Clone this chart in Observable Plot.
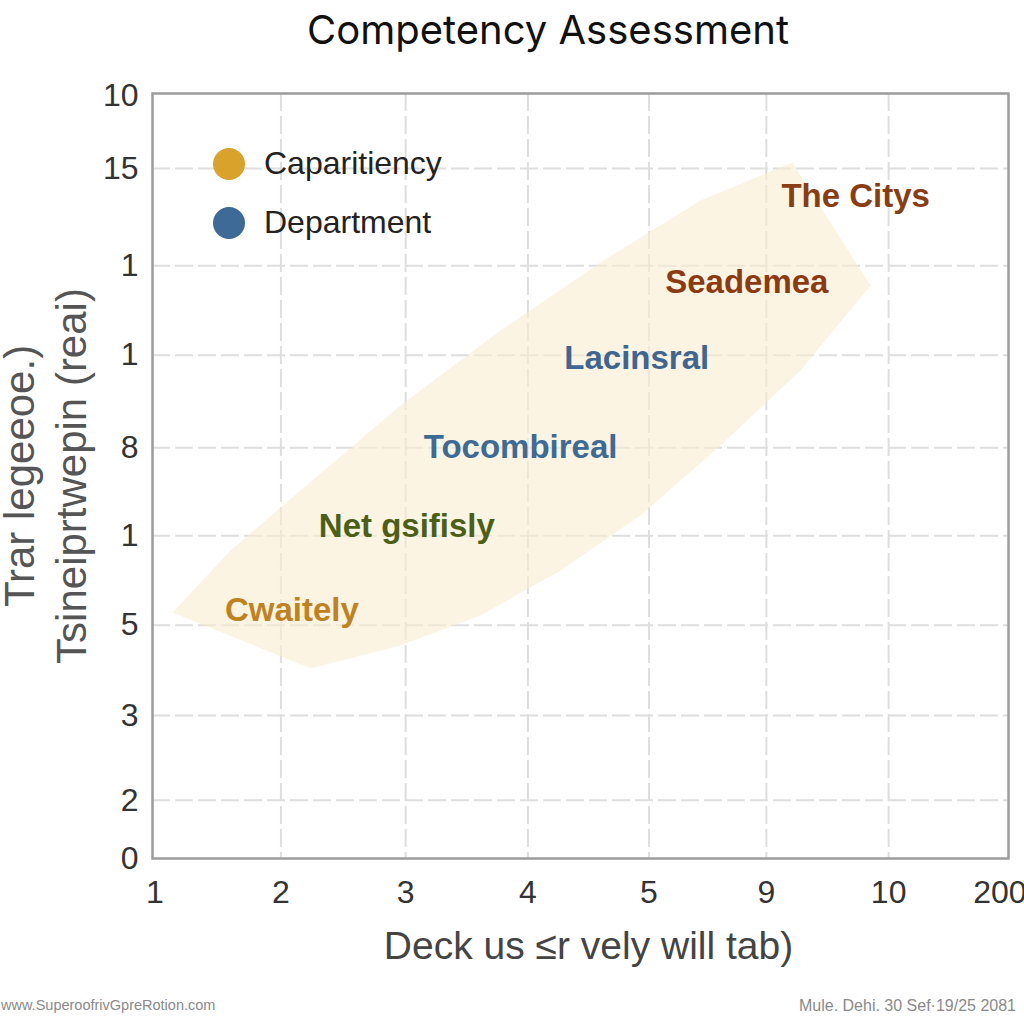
<!DOCTYPE html>
<html>
<head>
<meta charset="utf-8">
<script src="https://cdn.jsdelivr.net/npm/d3@7"></script>
<script src="https://cdn.jsdelivr.net/npm/@observablehq/plot@0.6"></script>
<style>
  html, body { margin: 0; padding: 0; background: #ffffff; }
  #page { position: relative; width: 1024px; height: 1024px; overflow: hidden; background: #fff; }
  #title { position: absolute; top: 5px; left: 36px; width: 1024px; text-align: center;
           font-family: "Inter", "DejaVu Sans", sans-serif; font-size: 40px; color: #111; line-height: 50px; }
  #chart { position: absolute; top: 62px; left: 0; }
  #legend { position: absolute; left: 213px; top: 134px; font-family: "Liberation Sans", Arial, sans-serif;
            font-size: 32px; color: #222; }
  .item { display: flex; align-items: center; height: 59px; }
  .sw { width: 32px; height: 32px; border-radius: 50%; margin-right: 19px; }
  .foot { position: absolute; top: 997px; font-family: "Liberation Sans", Arial, sans-serif; color: #8a8a8a; }
</style>
</head>
<body>
<div id="page">
  <div id="title"></div>
  <div id="chart"></div>
  <div id="legend"></div>
  <div class="foot" id="footL" style="left:1px; font-size:14.5px;"></div>
  <div class="foot" id="footR" style="right:8px; font-size:16px;"></div>
</div>
<script>
// ---------- data ----------
const titleText = "Competency Assessment";
const xTickLabels = ["1", "2", "3", "4", "5", "9", "10", "200"];
const xTickValues = [0.02, 1.05, 2.07, 3.07, 4.06, 5.02, 6.02, 6.93];
const yTickLabels = ["0", "2", "3", "5", "1", "8", "1", "1", "15", "10"];
const yTickValues = [0, 0.76, 1.87, 3.05, 4.22, 5.37, 6.58, 7.75, 9.02, 9.97];

const labelNames = ["Cwaitely", "Net gsifisly", "Tocombireal", "Lacinsral", "Seademea", "The Citys"];
const labelX = [1.14, 2.08, 3.01, 3.96, 4.86, 5.75];
const labelY = [3.24, 4.34, 5.37, 6.54, 7.53, 8.65];
const labelColors = ["#c0811f", "#4b5f17", "#3e6a96", "#3f6690", "#8b3a12", "#8a3c12"];

// competency band outline (lower edge left→right, then upper edge right→left)
const bandX = [0.164, 1.292, 2.028, 2.682, 3.336, 3.990, 4.645, 5.299, 5.871,
               5.233, 4.481, 3.663, 2.846, 2.028, 1.210, 0.638];
const bandY = [3.216, 2.484, 2.784, 3.176, 3.765, 4.484, 5.399, 6.379, 7.490,
               9.098, 8.601, 7.791, 6.902, 5.922, 4.810, 4.026];

const legendNames = ["Caparitiency", "Department"];
const legendColors = ["#d9a22a", "#3e6a98"];

const yTitleOuter = "Trar legeeoe.)";
const yTitleInner = "Tsineiprtwepin (reai)";
const xTitle = "Deck us \u2264r vely will tab)";
const footLeft = "www.SuperoofrivGpreRotion.com";
const footRight = "Mule. Dehi. 30 Sef\u00b719/25 2081";

// ---------- build ----------
const band = bandX.map((x, i) => ({x, y: bandY[i]}));
const labels = labelNames.map((t, i) => ({t, x: labelX[i], y: labelY[i], c: labelColors[i]}));
const xLab = new Map(xTickValues.map((v, i) => [v, xTickLabels[i]]));
const yLab = new Map(yTickValues.map((v, i) => [v, yTickLabels[i]]));
const xGrid = xTickValues.slice(1, -1);
const yGrid = yTickValues.slice(1, -1);

const tickFont = "'Liberation Sans Narrow', 'Liberation Sans', Arial, sans-serif";

const chart = Plot.plot({
  width: 1024,
  height: 923,
  marginLeft: 152,
  marginRight: 16,
  marginTop: 31,
  marginBottom: 127,
  style: {background: "transparent", fontFamily: "'Liberation Sans', Arial, sans-serif", overflow: "visible"},
  x: {domain: [0, 7]},
  y: {domain: [0, 10]},
  marks: [
    Plot.gridX(xGrid, {stroke: "#dedede", strokeOpacity: 1, strokeWidth: 2, strokeDasharray: "18,5"}),
    Plot.gridY(yGrid, {stroke: "#dedede", strokeOpacity: 1, strokeWidth: 2, strokeDasharray: "18,5"}),
    Plot.line(band, {x: "x", y: "y", curve: "linear-closed", fill: "#f8ecd0", fillOpacity: 0.6, stroke: "none"}),
    Plot.text(labels, {x: "x", y: "y", text: "t", fill: "c", fontSize: 33, fontWeight: 700,
      fontFamily: "'Liberation Sans', Arial, sans-serif"}),
    Plot.frame({stroke: "#9c9c9c", strokeWidth: 2.5}),
    Plot.axisX(xTickValues, {tickSize: 0, tickPadding: 22, fontSize: 32, fill: "#333",
      fontFamily: tickFont, tickFormat: d => xLab.get(d), label: null}),
    Plot.axisY(yTickValues, {tickSize: 0, tickPadding: 14, fontSize: 32, fill: "#333",
      fontFamily: tickFont, tickFormat: d => yLab.get(d), label: null}),
    Plot.text([yTitleOuter], {frameAnchor: "left", textAnchor: "middle", dx: -132, rotate: -90, fontSize: 42, fill: "#555",
      fontFamily: "'Liberation Sans', Arial, sans-serif"}),
    Plot.text([yTitleInner], {frameAnchor: "left", textAnchor: "middle", dx: -80, rotate: -90, fontSize: 42, fill: "#555",
      fontFamily: "'Liberation Sans', Arial, sans-serif"}),
    Plot.text([xTitle], {frameAnchor: "bottom", dy: 100, dx: 8, fontSize: 39, fill: "#444",
      fontFamily: "'Liberation Sans', Arial, sans-serif"})
  ]
});
document.getElementById("chart").appendChild(chart);

document.getElementById("title").textContent = titleText;
const leg = document.getElementById("legend");
legendNames.forEach((n, i) => {
  const it = document.createElement("div");
  it.className = "item";
  const sw = document.createElement("span");
  sw.className = "sw";
  sw.style.background = legendColors[i];
  const tx = document.createElement("span");
  tx.textContent = n;
  it.appendChild(sw); it.appendChild(tx);
  leg.appendChild(it);
});
document.getElementById("footL").textContent = footLeft;
document.getElementById("footR").textContent = footRight;
</script>
</body>
</html>
